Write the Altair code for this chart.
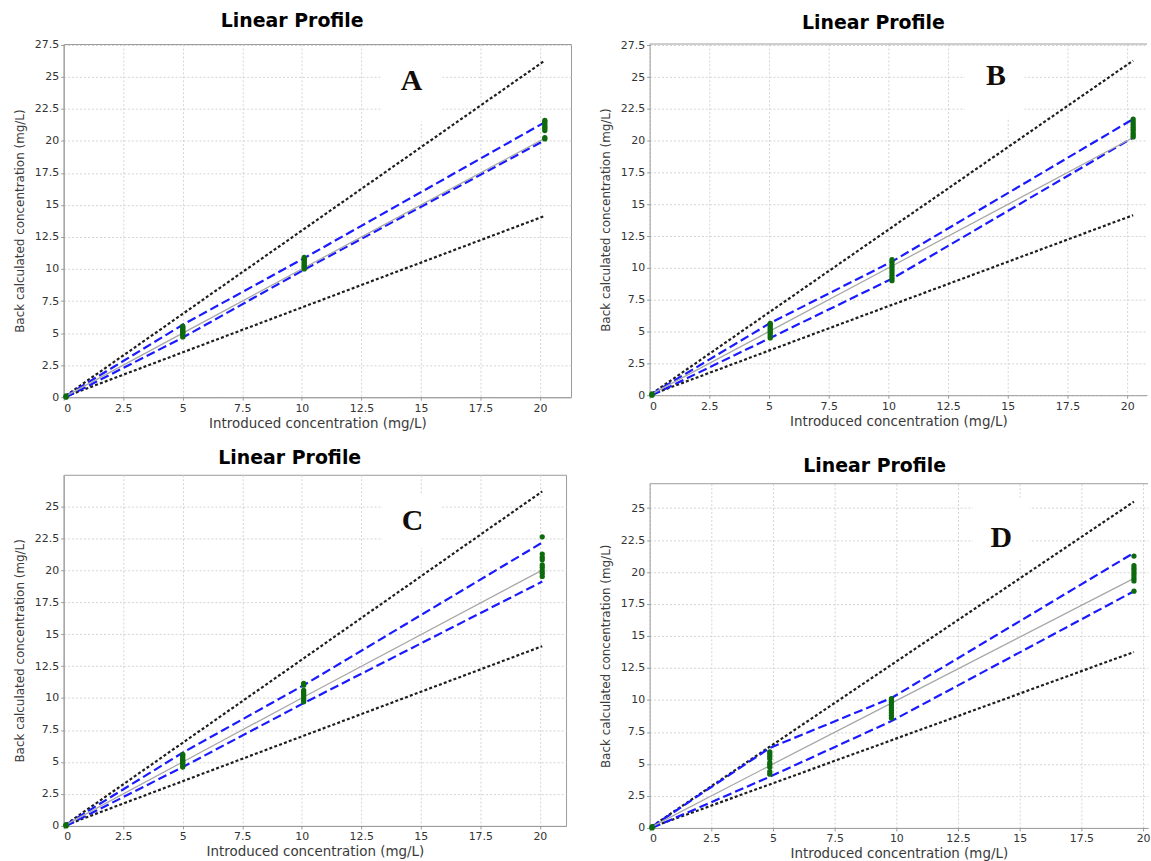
import altair as alt
import pandas as pd

X_TICKS = [0, 2.5, 5, 7.5, 10, 12.5, 15, 17.5, 20]
Y_TICKS = [0, 2.5, 5, 7.5, 10, 12.5, 15, 17.5, 20, 22.5, 25, 27.5]

TITLE = "Linear Profile"
X_TITLE = "Introduced concentration (mg/L)"
Y_TITLE = "Back calculated concentration (mg/L)"

# ---- Panel A -------------------------------------------------------------
A_levels = [0.1, 5.0, 10.1, 20.2]
A_acc_hi = [0.13, 6.5, 13.13, 26.26]
A_acc_lo = [0.07, 3.5, 7.07, 14.14]
A_tol_hi = [0.1, 5.65, 10.85, 21.45]
A_tol_lo = [0.0, 4.65, 9.95, 20.05]
A_ident = [0.1, 5.0, 10.1, 20.2]
A_points = [
    [0.0, 0.05, 0.1],
    [4.7, 4.85, 4.95, 5.05, 5.15, 5.25, 5.35, 5.45, 5.55],
    [10.0, 10.1, 10.2, 10.3, 10.45, 10.55, 10.7, 10.8, 10.9],
    [20.15, 20.25, 20.8, 20.95, 21.05, 21.2, 21.35, 21.5, 21.6],
]

# ---- Panel B -------------------------------------------------------------
B_levels = [0.1, 5.05, 10.15, 20.25]
B_acc_hi = [0.13, 6.57, 13.2, 26.3]
B_acc_lo = [0.07, 3.54, 7.1, 14.15]
B_tol_hi = [0.1, 5.67, 10.5, 21.7]
B_tol_lo = [0.0, 4.5, 9.15, 20.25]
B_ident = [0.1, 5.05, 10.15, 20.25]
B_points = [
    [0.0, 0.05, 0.1],
    [4.5, 4.65, 4.8, 4.95, 5.1, 5.25, 5.4, 5.55, 5.65],
    [9.0, 9.2, 9.4, 9.6, 9.8, 10.0, 10.2, 10.45, 10.65],
    [20.3, 20.45, 20.6, 20.8, 20.95, 21.1, 21.3, 21.5, 21.7],
]

# ---- Panel C -------------------------------------------------------------
C_levels = [0.1, 5.0, 10.08, 20.1]
C_acc_hi = [0.13, 6.5, 13.1, 26.15]
C_acc_lo = [0.07, 3.5, 7.05, 14.05]
C_tol_hi = [0.1, 5.73, 11.0, 22.15]
C_tol_lo = [0.0, 4.6, 9.6, 19.1]
C_ident = [0.1, 5.0, 10.08, 20.0]
C_points = [
    [0.0, 0.05, 0.1],
    [4.6, 4.75, 4.9, 5.0, 5.1, 5.2, 5.35, 5.5, 5.6],
    [9.7, 9.85, 10.0, 10.15, 10.3, 10.45, 10.6, 11.0, 11.15],
    [19.5, 19.75, 19.95, 20.2, 20.4, 20.8, 21.0, 21.25, 22.6],
]

# ---- Panel D -------------------------------------------------------------
D_levels = [0.1, 4.87, 9.8, 19.63]
D_acc_hi = [0.13, 6.35, 12.75, 25.5]
D_acc_lo = [0.07, 3.4, 6.85, 13.75]
D_tol_hi = [0.1, 6.25, 10.15, 21.5]
D_tol_lo = [0.0, 4.0, 8.35, 18.5]
D_ident = [0.1, 4.87, 9.75, 19.5]
D_points = [
    [0.0, 0.05, 0.1],
    [4.2, 4.4, 4.75, 4.95, 5.1, 5.4, 5.6, 5.8, 5.95],
    [8.6, 8.8, 9.0, 9.2, 9.4, 9.6, 9.8, 9.95, 10.1],
    [18.5, 19.3, 19.5, 19.7, 19.9, 20.1, 20.3, 20.5, 21.25],
]

# panel letters: (text, x, y) and the white patch behind each (x1, x2, y1, y2)
A_tag, A_patch = ("A", 14.6, 24.65), (13.3, 15.9, 21.5, 27.3)
B_tag, B_patch = ("B", 14.5, 25.1), (13.2, 15.7, 21.8, 27.4)
C_tag, C_patch = ("C", 14.65, 23.8), (13.4, 15.8, 21.7, 25.9)
D_tag, D_patch = ("D", 14.25, 22.65), (13.1, 15.4, 21.0, 25.8)

FRAME = "#9a9a9a"


def panel(levels, acc_hi, acc_lo, tol_hi, tol_lo, ident, points,
          x_max, y_max, width, height, tag, patch, closed, title_offset):
    xs = alt.Scale(domain=[0, x_max], nice=False, zero=False)
    ys = alt.Scale(domain=[0, y_max], nice=False, zero=False)
    x_axis = alt.Axis(values=X_TICKS, format=".1~f", title=X_TITLE)
    y_axis = alt.Axis(values=[v for v in Y_TICKS if v <= y_max],
                      format=".1~f", title=Y_TITLE)

    def enc(chart, xf="x", yf="y"):
        return chart.encode(
            x=alt.X(f"{xf}:Q", scale=xs, axis=x_axis),
            y=alt.Y(f"{yf}:Q", scale=ys, axis=y_axis),
        )

    def long(series):
        rows = []
        for name, vals in series:
            for x, y in zip(levels, vals):
                rows.append({"x": x, "y": y, "band": name})
        return pd.DataFrame(rows)

    acc = enc(alt.Chart(long([("hi", acc_hi), ("lo", acc_lo)])).mark_line(
        color="#1e1e1e", strokeWidth=2.2, strokeDash=[3, 2.2]
    )).encode(detail="band:N")
    tol = enc(alt.Chart(long([("hi", tol_hi), ("lo", tol_lo)])).mark_line(
        color="#1a1aff", strokeWidth=2.2, strokeDash=[9, 4]
    )).encode(detail="band:N")
    mid = enc(alt.Chart(long([("id", ident)])).mark_line(
        color="#a8a8a8", strokeWidth=1.3
    ))

    prow = []
    for x, vals in zip(levels, points):
        for v in vals:
            prow.append({"x": x, "y": v})
    pts = enc(alt.Chart(pd.DataFrame(prow)).mark_circle(
        size=28, color="#0d6a0d", opacity=1
    ))

    blank = alt.Chart(pd.DataFrame(
        [{"x": patch[0], "x2": patch[1], "y": patch[2], "y2": patch[3]}]
    )).mark_rect(color="white").encode(
        x=alt.X("x:Q", scale=xs, axis=x_axis), x2="x2:Q",
        y=alt.Y("y:Q", scale=ys, axis=y_axis), y2="y2:Q",
    )
    letter = enc(alt.Chart(pd.DataFrame(
        [{"t": tag[0], "x": tag[1], "y": tag[2]}]
    )).mark_text(
        font="Liberation Serif", fontSize=30, fontWeight="bold",
        color="#120d08", align="center", baseline="middle"
    )).encode(text="t:N")

    layers = [blank, acc, tol, mid, pts, letter]
    if not closed:
        top = enc(alt.Chart(pd.DataFrame([{"y": y_max}])).mark_rule(
            color=FRAME, strokeWidth=1)).encode(x=alt.value(0), x2=alt.value(width))
        layers.insert(1, top)

    return alt.layer(*layers).properties(
        width=width, height=height,
        title=alt.TitleParams(TITLE, font="DejaVu Sans", fontSize=19,
                              fontWeight="bold", color="black",
                              anchor="middle", frame="bounds",
                              offset=title_offset),
        view=alt.ViewBackground(stroke=FRAME if closed else "transparent",
                                strokeWidth=1),
    )


pA = panel(A_levels, A_acc_hi, A_acc_lo, A_tol_hi, A_tol_lo, A_ident, A_points,
           21.3, 27.55, 510, 355, A_tag, A_patch, True, 8)
pB = panel(B_levels, B_acc_hi, B_acc_lo, B_tol_hi, B_tol_lo, B_ident, B_points,
           20.83, 27.6, 500, 353, B_tag, B_patch, False, 6)
pC = panel(C_levels, C_acc_hi, C_acc_lo, C_tol_hi, C_tol_lo, C_ident, C_points,
           21.1, 27.45, 505, 353, C_tag, C_patch, True, 7)
pD = panel(D_levels, D_acc_hi, D_acc_lo, D_tol_hi, D_tol_lo, D_ident, D_points,
           20.2, 26.9, 501, 346, D_tag, D_patch, False, 7)

left_col = alt.vconcat(pA, pC, spacing=18)
right_col = alt.vconcat(pB, pD, spacing=29)

chart = alt.hconcat(left_col, right_col, spacing=27).properties(
    padding={"left": 13, "top": 9, "right": 0, "bottom": 0},
    background="white",
).configure_axis(
    grid=True,
    gridColor="#d4d4d4",
    gridDash=[2, 2],
    gridWidth=1,
    domainColor=FRAME,
    tickColor=FRAME,
    tickSize=3,
    labelPadding=2,
    labelFont="DejaVu Sans",
    labelFontSize=11,
    labelColor="#333333",
    titleFont="DejaVu Sans",
    titleFontWeight="normal",
    titleColor="#3a3a3a",
).configure_axisX(
    titleFontSize=13.5, titlePadding=3,
).configure_axisY(
    titleFontSize=12, titlePadding=8,
)

chart.save("out.html", embed_options={"renderer": "svg", "actions": False})
